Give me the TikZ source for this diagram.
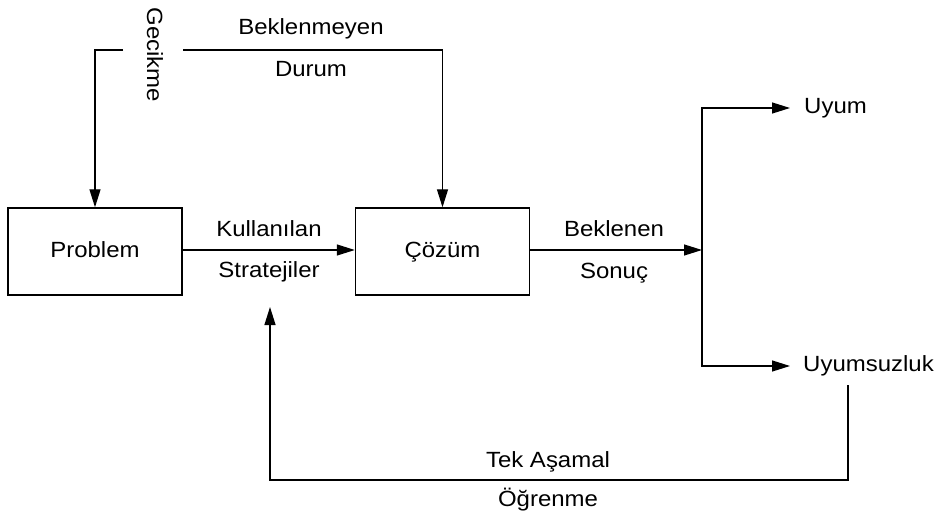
\documentclass[tikz,border=0pt]{standalone}
\usepackage{fontspec}
\setmainfont{Liberation Sans}[FakeStretch=1.09]
\usetikzlibrary{arrows.meta}
\begin{document}
\begin{tikzpicture}[x=1pt,y=-1pt,
  every node/.style={font=\fontsize{22}{26}\selectfont, inner sep=0pt},
  box/.style={draw, line width=1.4pt, minimum width=174pt, minimum height=87pt,
    text height=16pt, text depth=4pt},
  link/.style={line width=1.3pt},
  arr/.style={link, -{Triangle[length=18pt,width=11pt]}}]
\useasboundingbox (0,0) rectangle (940,516);

% blocks
\node[box] (problem) at (95,251.5) {Problem};
\node[box] (cozum) at (442.5,251.5) {Çözüm};

% labels on the main flow
\node (kul) at (269,229) {Kullanılan};
\node (str) at (269,272) {Stratejiler};
\node (bek) at (614,229) {Beklenen};
\node (son) at (614,273) {Sonuç};
\node (bmy) at (311,29) {Beklenmeyen};
\node (dur) at (311,69) {Durum};
\node[rotate=-90] (gec) at (155,55) {Gecikme};
\node (tek) at (548,462) {Tek Aşamal};
\node (ogr) at (548,500) {Öğrenme};

% outcomes
\node[anchor=west, inner xsep=14pt] (uyum) at (790,108) {Uyum};
\node[anchor=west, inner xsep=13pt] (uyumsuz) at (790,366) {Uyumsuzluk};

% connector points
\coordinate (gl) at (123,50);
\coordinate (gr) at (183,50);
\coordinate (j) at (702,250);
\coordinate (fb) at (848,385);
\coordinate (fbtip) at (270,307);

% top feedback into both blocks
\draw[arr] (gl) -| (problem.north);
\draw[arr] (gr) -| (cozum.north);

% main flow
\draw[arr] (problem.east |- 0,250) -- (cozum.west |- 0,250);
\draw[arr] (cozum.east |- 0,250) -- (j);
\draw[arr] (j) |- (uyum.west);
\draw[arr] (j) |- (uyumsuz.west);

% single-loop learning back to the strategies
\draw[arr] (fb) -- ++(0,95) -| (fbtip);
\end{tikzpicture}
\end{document}
